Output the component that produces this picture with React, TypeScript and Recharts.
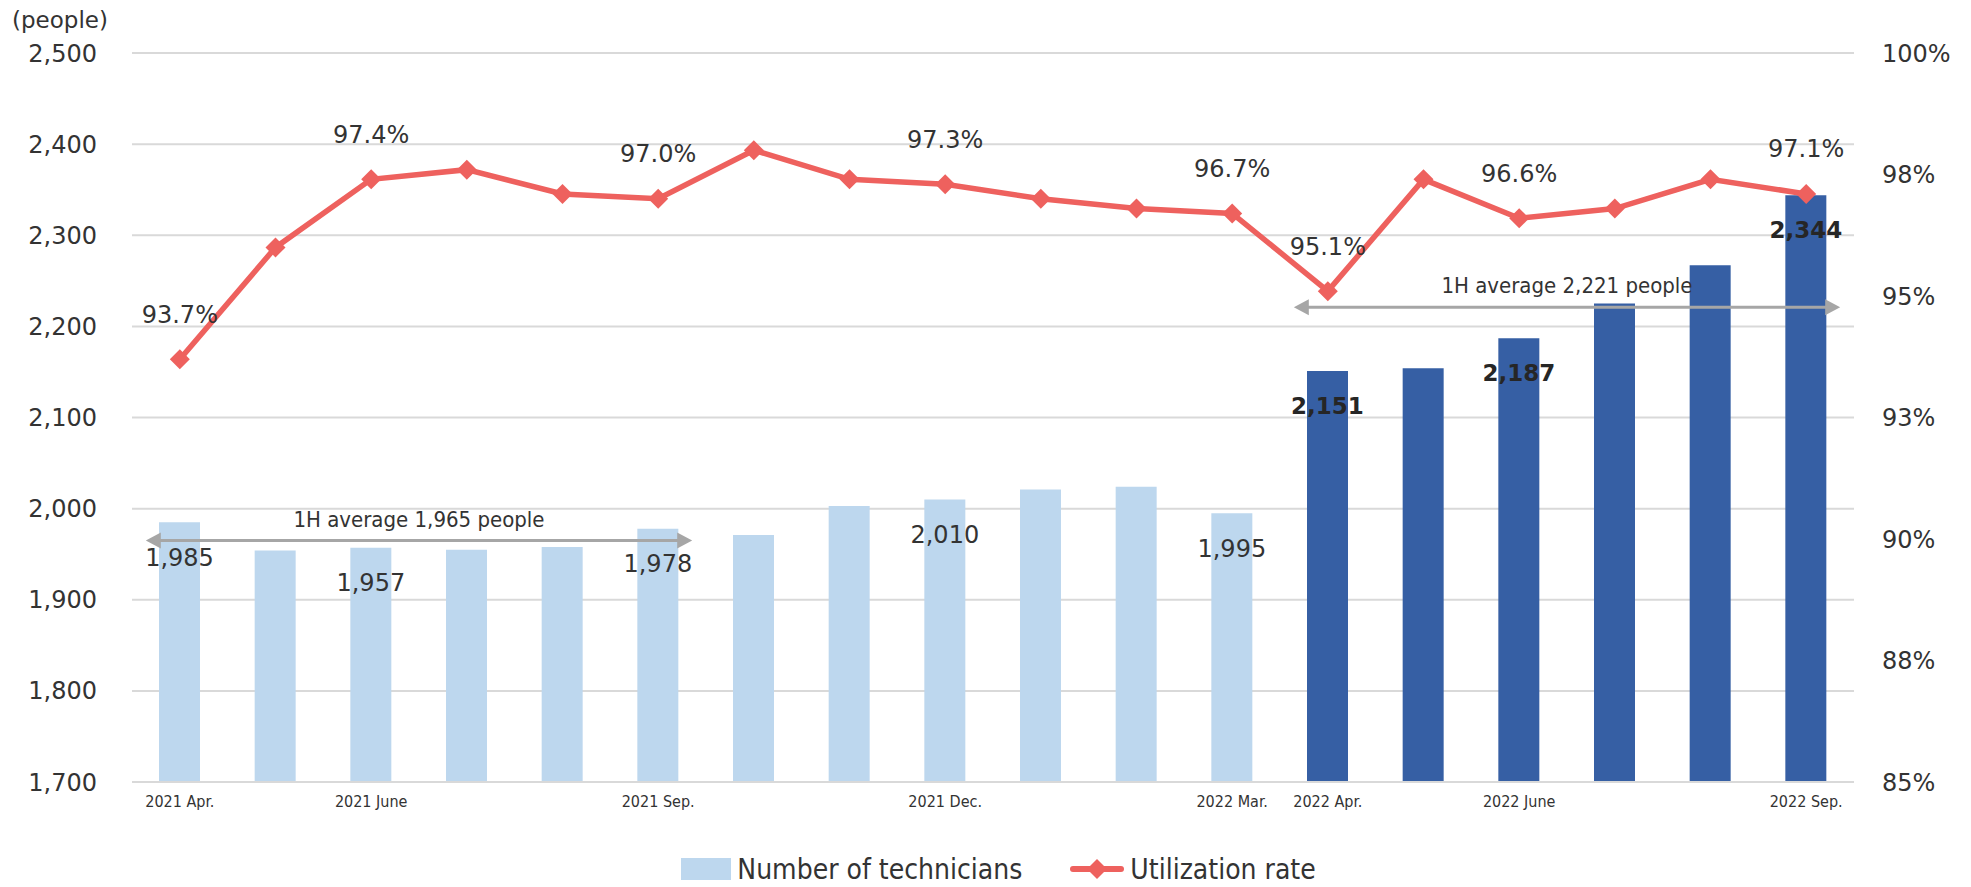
import {
  ComposedChart,
  Bar,
  Line,
  XAxis,
  YAxis,
  CartesianGrid,
  Legend,
  LabelList,
  Cell,
  ReferenceLine,
} from "recharts"

const months = [
  "2021 Apr.", "2021 May", "2021 June", "2021 July", "2021 Aug.", "2021 Sep.",
  "2021 Oct.", "2021 Nov.", "2021 Dec.", "2022 Jan.", "2022 Feb.", "2022 Mar.",
  "2022 Apr.", "2022 May", "2022 June", "2022 July", "2022 Aug.", "2022 Sep.",
]
const technicians = [1985, 1954, 1957, 1955, 1958, 1978, 1971, 2003, 2010, 2021, 2024, 1995, 2151, 2154, 2187, 2225, 2267, 2344]
const utilization = [93.7, 96.0, 97.4, 97.6, 97.1, 97.0, 98.0, 97.4, 97.3, 97.0, 96.8, 96.7, 95.1, 97.4, 96.6, 96.8, 97.4, 97.1]
const labeledMonths = ["2021 Apr.", "2021 June", "2021 Sep.", "2021 Dec.", "2022 Mar.", "2022 Apr.", "2022 June", "2022 Sep."]
const secondPeriodStart = 12
const leftTicks = [1700, 1800, 1900, 2000, 2100, 2200, 2300, 2400, 2500]
const rightTicks = [85, 87.5, 90, 92.5, 95, 97.5, 100]
const averages = [
  { from: "2021 Apr.", to: "2021 Sep.", value: 1965, text: "1H average 1,965 people" },
  { from: "2022 Apr.", to: "2022 Sep.", value: 2221, text: "1H average 2,221 people" },
]

const LIGHT = "#BDD7EE"
const DARK = "#365FA4"
const RED = "#EE615E"
const GRID = "#D9D9D9"
const ARROW = "#A6A6A6"
const TEXT = "#333333"
const FONT = "'DejaVu Sans', Verdana, sans-serif"
const NARROW = "'DejaVu Sans Condensed', 'DejaVu Sans', sans-serif"

const data = months.map((m, i) => {
  const shown = labeledMonths.includes(m)
  const count = technicians[i].toLocaleString("en-US")
  return {
    month: m,
    technicians: technicians[i],
    utilization: utilization[i],
    rateLabel: shown ? utilization[i].toFixed(1) + "%" : "",
    countLabel: shown && i < secondPeriodStart ? count : "",
    countLabelBold: shown && i >= secondPeriodStart ? count : "",
  }
})

const Diamond = (props: any) => {
  const { cx, cy } = props
  if (cx == null || cy == null) return null
  const r = 10
  return <polygon points={`${cx},${cy - r} ${cx + r},${cy} ${cx},${cy + r} ${cx - r},${cy}`} fill={RED} />
}

const rateLabel = (props: any) => {
  const { x, y, value } = props
  if (!value) return null
  return (
    <text x={x} y={y - 45} textAnchor="middle" dy="0.35em" fontFamily={FONT} fontSize={24} fill={TEXT}>
      {value}
    </text>
  )
}

const countLabel = (bold: boolean) => (props: any) => {
  const { x, y, width, value } = props
  if (!value) return null
  return (
    <text
      x={x + width / 2}
      y={y + 35}
      textAnchor="middle"
      dy="0.35em"
      fontFamily={FONT}
      fontSize={bold ? 23 : 24}
      fontWeight={bold ? "bold" : "normal"}
      fill={bold ? "#262626" : TEXT}
    >
      {value}
    </text>
  )
}

const averageArrow = (text: string) => (props: any) => {
  const { x1, y1, x2 } = props
  const left = x1 - 34
  const right = x2 + 34
  const y = y1
  return (
    <g>
      <line x1={left + 12} y1={y} x2={right - 12} y2={y} stroke={ARROW} strokeWidth={3} />
      <polygon points={`${left},${y} ${left + 15},${y - 8} ${left + 15},${y + 8}`} fill={ARROW} />
      <polygon points={`${right},${y} ${right - 15},${y - 8} ${right - 15},${y + 8}`} fill={ARROW} />
      <text x={(left + right) / 2} y={y - 14} textAnchor="middle" fontFamily={NARROW} fontSize={22} fill={TEXT}>
        {text}
      </text>
    </g>
  )
}

const renderLegend = () => (
  <div
    style={{
      height: 36,
      display: "flex",
      alignItems: "center",
      justifyContent: "center",
      fontFamily: NARROW,
      fontSize: 28,
      color: TEXT,
      paddingLeft: 26,
    }}
  >
    <span style={{ display: "inline-block", width: 50, height: 22, background: LIGHT, marginRight: 6 }} />
    <span>Number of technicians</span>
    <svg width={54} height={22} style={{ marginLeft: 48, marginRight: 6 }}>
      <line x1={3} y1={11} x2={51} y2={11} stroke={RED} strokeWidth={6} strokeLinecap="round" />
      <polygon points="27,1 37,11 27,21 17,11" fill={RED} />
    </svg>
    <span>Utilization rate</span>
  </div>
)

export default function App() {
  return (
    <div style={{ position: "absolute", left: 0, top: 0, width: 1971, height: 887, background: "#fff" }}>
      <ComposedChart width={1971} height={887} data={data} margin={{ top: 53, right: 0, bottom: 0, left: 0 }}>
        <CartesianGrid yAxisId="left" vertical={false} stroke={GRID} strokeWidth={2} />
        <XAxis
          dataKey="month"
          interval={0}
          height={69}
          tickSize={0}
          tickMargin={14}
          axisLine={{ stroke: GRID, strokeWidth: 2 }}
          tickLine={false}
          tick={{ fontFamily: NARROW, fontSize: 16, fill: TEXT }}
          tickFormatter={(v: string) => (labeledMonths.includes(v) ? v : "")}
        />
        <YAxis
          yAxisId="left"
          width={132}
          domain={[1700, 2500]}
          ticks={leftTicks}
          allowDataOverflow
          axisLine={false}
          tickLine={false}
          tickSize={0}
          tickMargin={35}
          tick={{ fontFamily: FONT, fontSize: 24, fill: TEXT }}
          tickFormatter={(v: number) => v.toLocaleString("en-US")}
          label={{
            content: (p: any) => (
              <text
                x={p.viewBox.x + 60}
                y={p.viewBox.y - 33}
                textAnchor="middle"
                dy="0.35em"
                fontFamily={FONT}
                fontSize={23}
                fill={TEXT}
              >
                (people)
              </text>
            ),
          }}
        />
        <YAxis
          yAxisId="right"
          orientation="right"
          width={117}
          domain={[85, 100]}
          ticks={rightTicks}
          axisLine={false}
          tickLine={false}
          tickSize={0}
          tickMargin={28}
          tick={{ fontFamily: FONT, fontSize: 24, fill: TEXT }}
          tickFormatter={(v: number) => Math.round(v) + "%"}
        />
        <Legend verticalAlign="bottom" content={renderLegend} />
        <Bar yAxisId="left" dataKey="technicians" barSize={41} isAnimationActive={false} name="Number of technicians">
          {data.map((_, i) => (
            <Cell key={i} fill={i < secondPeriodStart ? LIGHT : DARK} />
          ))}
          <LabelList dataKey="countLabel" content={countLabel(false)} />
          <LabelList dataKey="countLabelBold" content={countLabel(true)} />
        </Bar>
        <Line
          yAxisId="right"
          dataKey="utilization"
          stroke={RED}
          strokeWidth={5.5}
          dot={<Diamond />}
          activeDot={false}
          isAnimationActive={false}
          name="Utilization rate"
        >
          <LabelList dataKey="rateLabel" content={rateLabel} />
        </Line>
        {averages.map((a) => (
          <ReferenceLine
            key={a.text}
            yAxisId="left"
            segment={[
              { x: a.from, y: a.value },
              { x: a.to, y: a.value },
            ]}
            shape={averageArrow(a.text)}
          />
        ))}
      </ComposedChart>
    </div>
  )
}
